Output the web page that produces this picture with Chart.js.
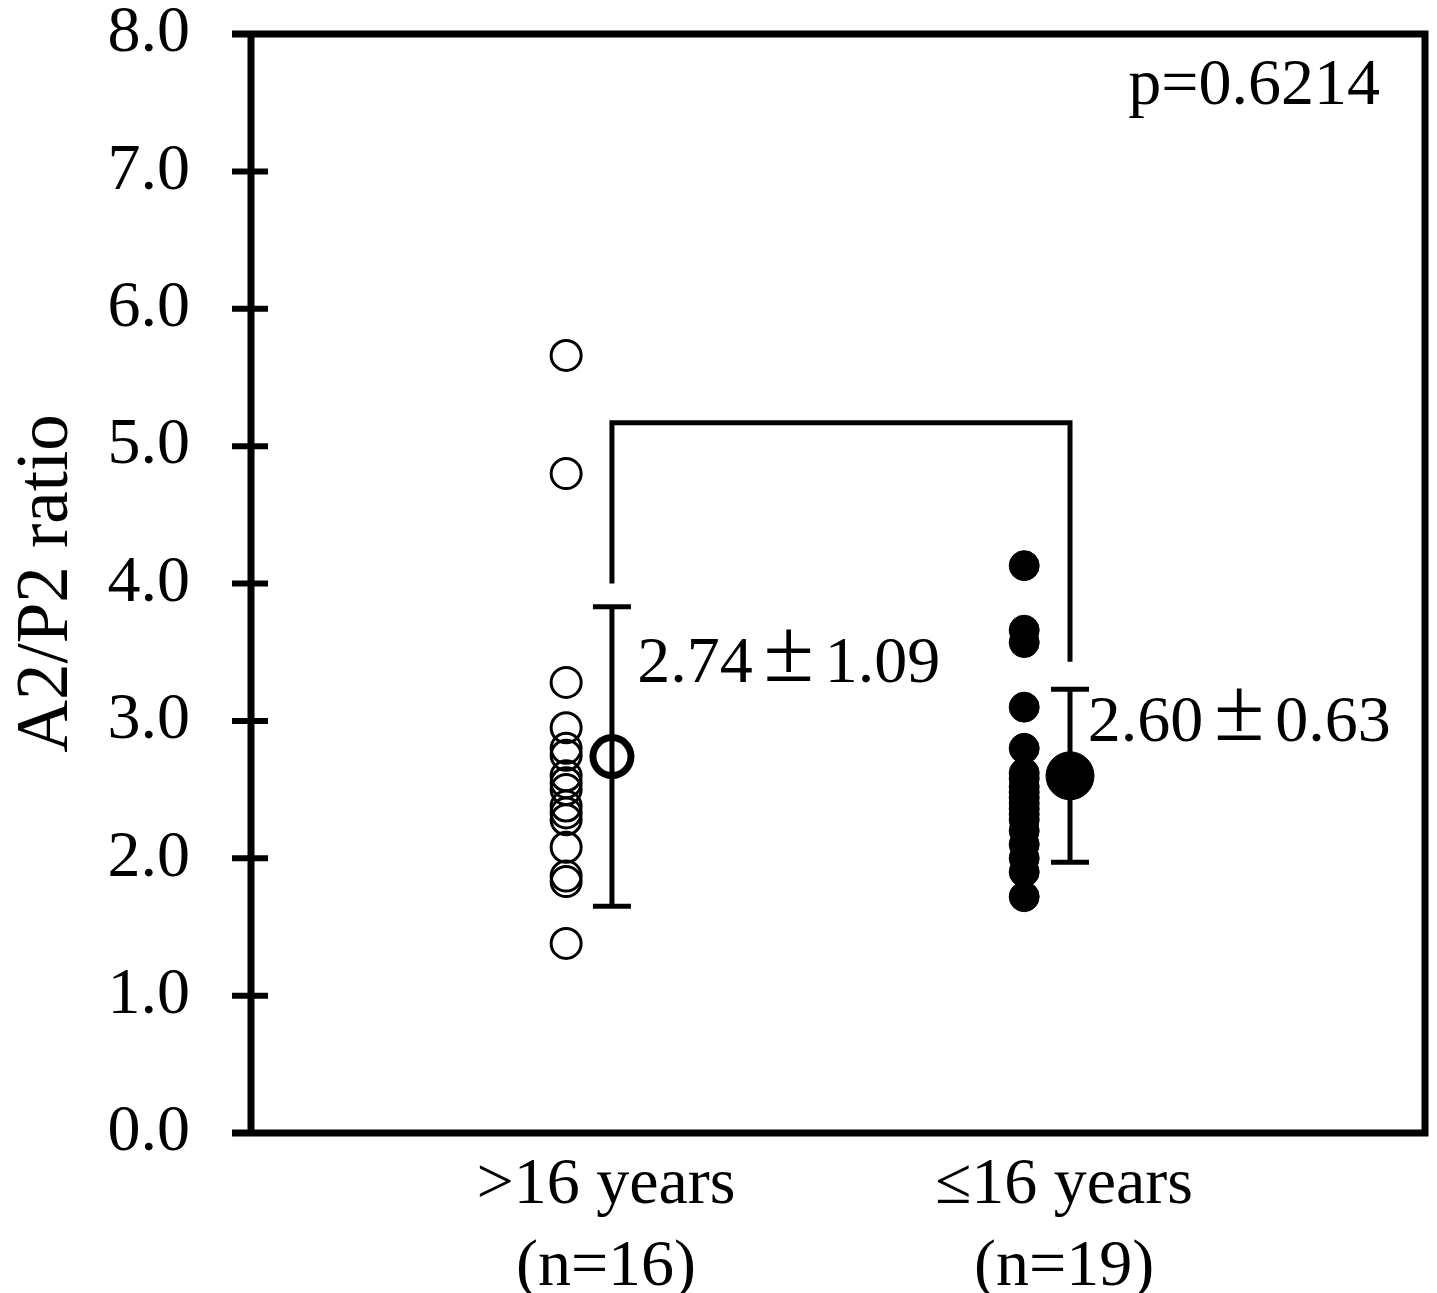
<!DOCTYPE html>
<html>
<head>
<meta charset="utf-8">
<script src="https://cdn.jsdelivr.net/npm/chart.js@4.4.0/dist/chart.umd.min.js"></script>
<style>
  html, body { margin: 0; padding: 0; background: #fff; }
  #wrap { width: 1437px; height: 1293px; position: relative; }
</style>
</head>
<body>
<div id="wrap"><canvas id="c" width="1437" height="1293"></canvas></div>
<script>
// ---- data ----
const categories = [[">16 years", "(n=16)"], ["\u226416 years", "(n=19)"]];
const groupOver16 = [5.66, 4.80, 3.28, 2.95, 2.80, 2.75, 2.60, 2.55, 2.50, 2.38, 2.33, 2.28, 2.08, 1.87, 1.83, 1.38];
const groupUnder16 = [4.13, 3.66, 3.57, 3.10, 2.80, 2.62, 2.58, 2.52, 2.48, 2.44, 2.40, 2.36, 2.32, 2.28, 2.20, 2.10, 2.00, 1.90, 1.72];
const means = [2.74, 2.60];
const sds = [1.09, 0.63];
const meanLabelParts = [["2.74", "\u00B1", "1.09"], ["2.60", "\u00B1", "0.63"]];
const pLabel = "p=0.6214";
const bracketY = 5.17;
const bracketLegs = [4.0, 3.43];
const yTicks = [0, 1, 2, 3, 4, 5, 6, 7, 8];
const yTitle = "A2/P2 ratio";

// ---- layout constants ----
const PT_OFF = -0.087;
const MEAN_OFF = 0.013;
const FONT = "'Liberation Serif', 'Times New Roman', serif";

const ds1 = groupOver16.map(v => ({ x: 1 + PT_OFF, y: v }));
const ds2 = groupUnder16.map(v => ({ x: 2 + PT_OFF, y: v }));

function drawPM(ctx, parts, x, y) {
  ctx.textAlign = 'left';
  ctx.textBaseline = 'alphabetic';
  ctx.font = '66px ' + FONT;
  ctx.fillText(parts[0], x, y);
  const w = ctx.measureText(parts[0]).width;
  const cell = 72;
  ctx.font = '92px ' + FONT;
  ctx.textAlign = 'center';
  ctx.fillText(parts[1], x + w + cell / 2, y - 1);
  ctx.font = '66px ' + FONT;
  ctx.textAlign = 'left';
  ctx.fillText(parts[2], x + w + cell, y);
}

const overlay = {
  id: 'overlay',
  afterDraw(chart) {
    const ctx = chart.ctx;
    const xs = chart.scales.x, ys = chart.scales.y;
    const a = chart.chartArea;
    ctx.save();
    ctx.strokeStyle = '#000';
    ctx.lineCap = 'butt';
    // frame
    ctx.lineWidth = 7;
    ctx.beginPath();
    ctx.moveTo(a.left - 19, a.top); ctx.lineTo(a.right, a.top);
    ctx.moveTo(a.right, a.top - 3.5); ctx.lineTo(a.right, a.bottom + 3.5);
    ctx.moveTo(a.left - 19, a.bottom); ctx.lineTo(a.right, a.bottom);
    ctx.moveTo(a.left, a.top - 3.5); ctx.lineTo(a.left, a.bottom + 3.5);
    ctx.stroke();
    // y ticks
    ctx.lineWidth = 6;
    ctx.beginPath();
    yTicks.forEach(v => {
      const py = ys.getPixelForValue(v);
      ctx.moveTo(a.left - 19, py); ctx.lineTo(a.left + 17, py);
    });
    ctx.stroke();
    // error bars
    ctx.lineWidth = 5;
    ctx.beginPath();
    means.forEach((m, i) => {
      const px = xs.getPixelForValue(i + 1 + MEAN_OFF);
      const top = ys.getPixelForValue(m + sds[i]);
      const bot = ys.getPixelForValue(m - sds[i]);
      ctx.moveTo(px, top); ctx.lineTo(px, bot);
      ctx.moveTo(px - 19, top); ctx.lineTo(px + 19, top);
      ctx.moveTo(px - 19, bot); ctx.lineTo(px + 19, bot);
    });
    ctx.stroke();
    // bracket
    const bx1 = xs.getPixelForValue(1 + MEAN_OFF);
    const bx2 = xs.getPixelForValue(2 + MEAN_OFF);
    const by = ys.getPixelForValue(bracketY);
    ctx.beginPath();
    ctx.moveTo(bx1, ys.getPixelForValue(bracketLegs[0]));
    ctx.lineTo(bx1, by);
    ctx.lineTo(bx2, by);
    ctx.lineTo(bx2, ys.getPixelForValue(bracketLegs[1]));
    ctx.stroke();
    // texts
    ctx.fillStyle = '#000';
    drawPM(ctx, meanLabelParts[0], xs.getPixelForValue(1.068), ys.getPixelForValue(3.28));
    drawPM(ctx, meanLabelParts[1], xs.getPixelForValue(2.052), ys.getPixelForValue(2.85));
    ctx.font = '66px ' + FONT;
    ctx.textBaseline = 'middle';
    ctx.textAlign = 'right';
    ctx.fillText(pLabel, a.right - 45, ys.getPixelForValue(7.62));
    ctx.restore();
  }
};

function zeroPad(s) { s.paddingTop = 0; s.paddingBottom = 0; s.paddingLeft = 0; s.paddingRight = 0; }

new Chart(document.getElementById('c'), {
  type: 'scatter',
  data: {
    datasets: [
      { data: ds1, pointStyle: 'circle', pointRadius: 15, pointBorderWidth: 3,
        pointBackgroundColor: 'rgba(255,255,255,0)', pointBorderColor: '#000' },
      { data: ds2, pointStyle: 'circle', pointRadius: 15, pointBorderWidth: 1,
        pointBackgroundColor: '#000', pointBorderColor: '#000' },
      { data: [{ x: 1 + MEAN_OFF, y: means[0] }], pointRadius: 19, pointBorderWidth: 7,
        pointBackgroundColor: 'rgba(255,255,255,0)', pointBorderColor: '#000' },
      { data: [{ x: 2 + MEAN_OFF, y: means[1] }], pointRadius: 24, pointBorderWidth: 1,
        pointBackgroundColor: '#000', pointBorderColor: '#000' }
    ]
  },
  options: {
    responsive: false,
    animation: false,
    layout: { autoPadding: false, padding: { top: 34, right: 12, left: 0, bottom: 0 } },
    plugins: { legend: { display: false }, tooltip: { enabled: false } },
    scales: {
      x: {
        type: 'linear', min: 0.225, max: 2.788,
        afterBuildTicks: s => { s.ticks = [{ value: 1 }, { value: 2 }]; },
        afterFit: s => { s.height = 160; zeroPad(s); },
        grid: { display: false, drawTicks: false },
        border: { display: false },
        ticks: {
          color: '#000', padding: 12,
          font: { family: FONT, size: 66, lineHeight: 1.24 },
          callback: v => categories[Math.round(v) - 1] || ''
        }
      },
      y: {
        min: 0, max: 8,
        afterBuildTicks: s => { s.ticks = yTicks.map(v => ({ value: v })); },
        afterFit: s => { s.width = 251; zeroPad(s); },
        grid: { display: false, drawTicks: false },
        border: { display: false },
        title: { display: true, text: yTitle, color: '#000', padding: { top: 4, bottom: 0 },
                 font: { family: FONT, size: 73 } },
        ticks: {
          color: '#000', padding: 61,
          font: { family: FONT, size: 66 },
          callback: v => Number(v).toFixed(1)
        }
      }
    }
  },
  plugins: [overlay]
});
</script>
</body>
</html>
